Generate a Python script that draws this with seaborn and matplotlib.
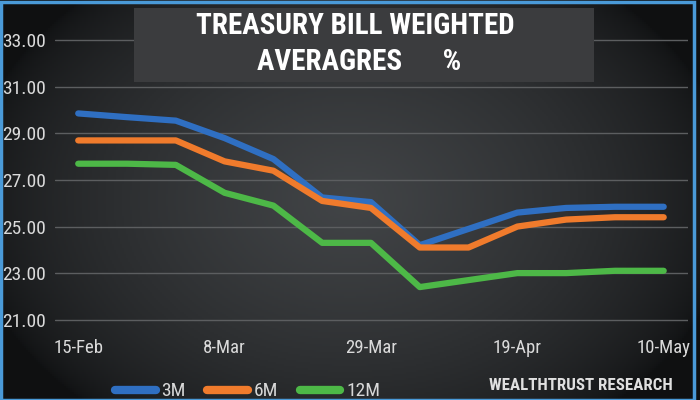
import numpy as np
import pandas as pd
import matplotlib.pyplot as plt
import matplotlib.font_manager as fm
import seaborn as sns
from matplotlib.patches import Rectangle

# Weekly treasury bill weighted averages (%)
weeks = ['15-Feb', '22-Feb', '1-Mar', '8-Mar', '15-Mar', '22-Mar', '29-Mar',
         '5-Apr', '12-Apr', '19-Apr', '26-Apr', '3-May', '10-May']
rate_3m = [29.86, 29.70, 29.55, 28.80, 27.90, 26.25, 26.05, 24.20, 24.90, 25.60, 25.80, 25.85, 25.85]
rate_6m = [28.70, 28.70, 28.70, 27.80, 27.40, 26.10, 25.80, 24.10, 24.10, 25.00, 25.30, 25.40, 25.40]
rate_12m = [27.70, 27.70, 27.65, 26.45, 25.90, 24.30, 24.30, 22.40, 22.70, 23.00, 23.00, 23.10, 23.10]
tenors = ['3M', '6M', '12M']
colors = ['#2f6fc2', '#f07b2c', '#4db847']
y_ticks = [21, 23, 25, 27, 29, 31, 33]
x_tick_labels = ['15-Feb', '8-Mar', '29-Mar', '19-Apr', '10-May']

rows = []
for tenor, vals in zip(tenors, [rate_3m, rate_6m, rate_12m]):
    for i, v in enumerate(vals):
        rows.append({'week': i, 'tenor': tenor, 'rate': v})
df = pd.DataFrame(rows)

# condensed font like the original (whichever narrow family is installed)
avail = {f.name for f in fm.fontManager.ttflist}
narrow = next((n for n in ['Roboto Condensed', 'Open Sans Condensed', 'Arial Narrow',
                           'Liberation Sans Narrow'] if n in avail), 'Roboto')

sns.set_style('dark')
plt.rcParams['font.family'] = [narrow, 'DejaVu Sans']

fig = plt.figure(figsize=(7, 4), dpi=100)

# dark radial background
bg = fig.add_axes([0, 0, 1, 1], zorder=-5)
yy, xx = np.mgrid[-1:1:200j, -1:1:350j]
r = np.sqrt((xx / 1.1) ** 2 + (yy / 1.4) ** 2)
shade = np.clip(1 - r, 0, 1) ** 0.6
dark = np.array([0.06, 0.065, 0.07])
light = np.array([0.26, 0.27, 0.28])
img = dark + (light - dark) * shade[..., None]
bg.imshow(img, aspect='auto', extent=[0, 1, 0, 1])
bg.set_axis_off()

ax = fig.add_axes([0.079, 0.195, 0.904, 0.71])
ax.set_facecolor('none')
sns.lineplot(data=df, x='week', y='rate', hue='tenor', palette=colors,
             linewidth=4.5, ax=ax, solid_joinstyle='round')

ax.set_xlim(-0.47, 12.5)
ax.set_ylim(20.9, 33.1)
ax.set_yticks(y_ticks)
ax.set_yticklabels([f'{v:.2f}' for v in y_ticks])
ax.set_xticks([weeks.index(l) for l in x_tick_labels])
ax.set_xticklabels(x_tick_labels)
ax.tick_params(colors='#dadada', length=0)
ax.tick_params(axis='x', pad=12, labelsize=13.5)
ax.tick_params(axis='y', pad=7, labelsize=14)
ax.grid(axis='y', color='#5c5e60', linewidth=1)
ax.grid(axis='x', visible=False)
ax.set_xlabel('')
ax.set_ylabel('')
for s in ax.spines.values():
    s.set_visible(False)

sns.move_legend(ax, 'lower left', bbox_to_anchor=(0.139, -0.045), bbox_transform=fig.transFigure,
                ncol=3, frameon=False, title=None, fontsize=14, handlelength=2.1,
                columnspacing=1.1, handletextpad=0.3, labelcolor='#d8d8d8')
for h in ax.get_legend().legend_handles:
    h.set_linewidth(6)

# title box
fig.patches.append(Rectangle((0.191, 0.795), 0.658, 0.185, transform=fig.transFigure,
                             facecolor='#3b3c3e', edgecolor='none', zorder=1))
fig.text(0.507, 0.935, 'TREASURY BILL WEIGHTED', color='white', fontsize=21,
         fontweight='bold', ha='center', va='center', zorder=3)
fig.text(0.513, 0.845, 'AVERAGRES      %', color='white', fontsize=21,
         fontweight='bold', ha='center', va='center', zorder=3)

fig.text(0.83, 0.036, 'WEALTHTRUST RESEARCH', color='#e0e0e0', fontsize=12.2,
         fontweight='bold', ha='center', va='center')

# frame
fig.patches.append(Rectangle((0.002, 0.0), 0.99, 0.995, transform=fig.transFigure,
                             facecolor='none', edgecolor='#4a9ad8', linewidth=2.5, zorder=10))

fig.savefig('out.png', dpi=100)
